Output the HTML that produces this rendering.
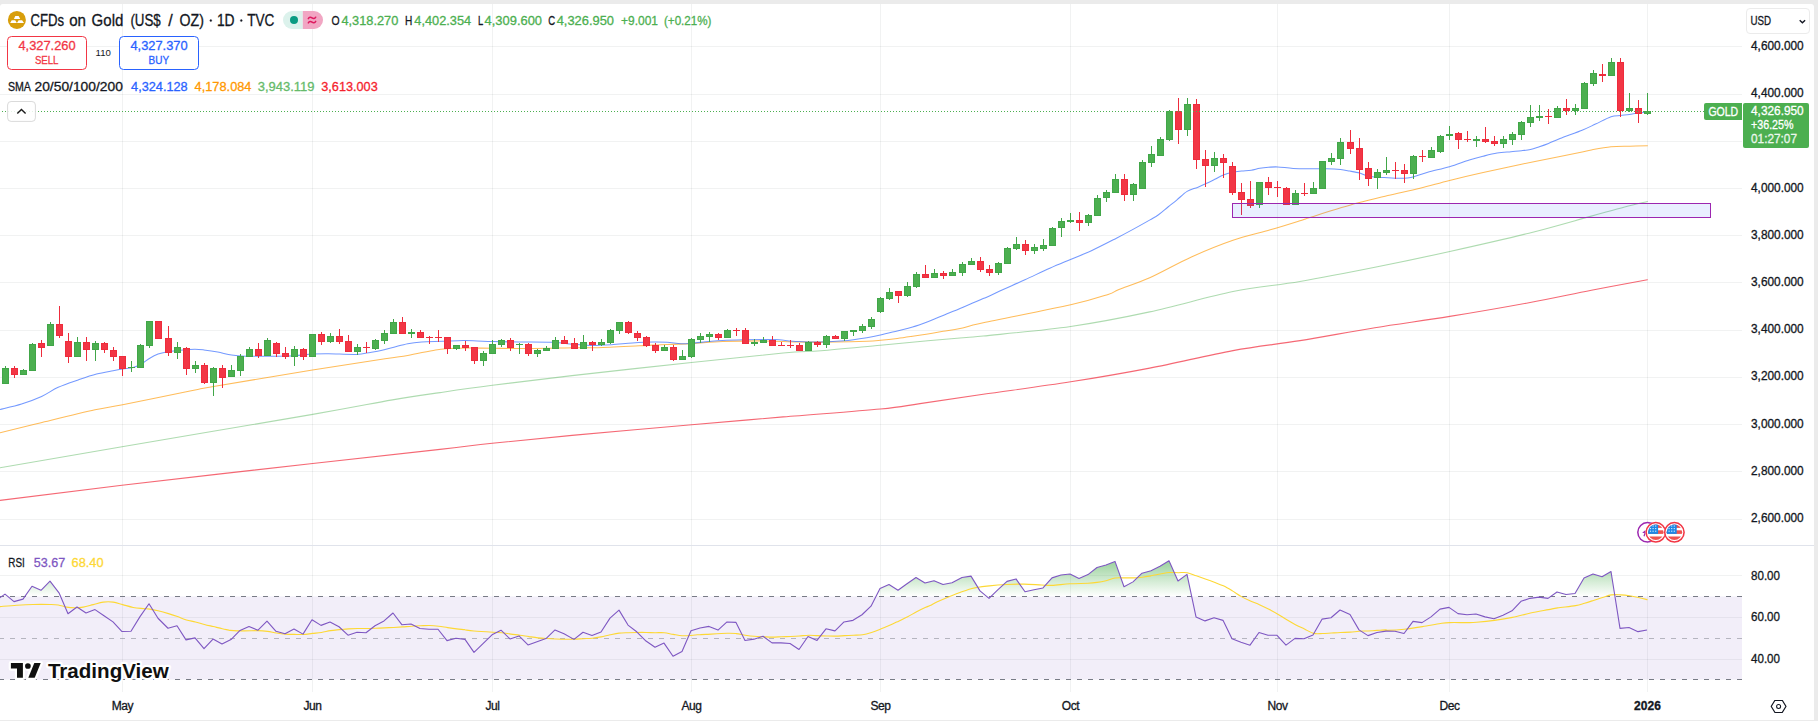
<!DOCTYPE html>
<html><head><meta charset="utf-8"><title>Gold chart</title>
<style>
html,body{margin:0;padding:0;}
body{width:1818px;height:721px;background:#ebebeb;overflow:hidden;position:relative;font-family:"Liberation Sans",sans-serif;}
#card{position:absolute;left:0;top:4px;width:1814px;height:716px;background:#fff;border-radius:3px 3px 0 0;}
</style></head><body>
<div id="card"></div>
<svg width="1818" height="721" viewBox="0 0 1818 721" style="position:absolute;left:0;top:0;font-family:'Liberation Sans',sans-serif">
<defs>
<linearGradient id="ob" gradientUnits="userSpaceOnUse" x1="0" y1="533.8" x2="0" y2="596.4"><stop offset="0" stop-color="#4caf50" stop-opacity="1"/><stop offset="1" stop-color="#4caf50" stop-opacity="0"/></linearGradient>
<clipPath id="above70"><rect x="0" y="546" width="1742" height="50.5"/></clipPath>
<clipPath id="pane"><rect x="0" y="4" width="1742" height="688"/></clipPath>
<clipPath id="flag"><circle cx="0" cy="0" r="7.75"/></clipPath>
</defs>
<g fill="rgba(20,40,30,0.06)">
<rect x="0" y="46" width="1742" height="1"/>
<rect x="0" y="94" width="1742" height="1"/>
<rect x="0" y="141" width="1742" height="1"/>
<rect x="0" y="188" width="1742" height="1"/>
<rect x="0" y="235" width="1742" height="1"/>
<rect x="0" y="282" width="1742" height="1"/>
<rect x="0" y="330" width="1742" height="1"/>
<rect x="0" y="377" width="1742" height="1"/>
<rect x="0" y="424" width="1742" height="1"/>
<rect x="0" y="471" width="1742" height="1"/>
<rect x="0" y="519" width="1742" height="1"/>
<rect x="0" y="575" width="1742" height="1"/>
<rect x="0" y="617" width="1742" height="1"/>
<rect x="0" y="659" width="1742" height="1"/>
<rect x="122" y="4" width="1" height="688"/>
<rect x="312" y="4" width="1" height="688"/>
<rect x="492" y="4" width="1" height="688"/>
<rect x="691" y="4" width="1" height="688"/>
<rect x="880" y="4" width="1" height="688"/>
<rect x="1070" y="4" width="1" height="688"/>
<rect x="1277" y="4" width="1" height="688"/>
<rect x="1449" y="4" width="1" height="688"/>
<rect x="1647" y="4" width="1" height="688"/>
</g>
<rect x="0" y="545" width="1814" height="1" fill="#e0e3eb"/>
<rect x="0" y="596.5" width="1742" height="83" fill="#7e57c2" fill-opacity="0.1"/>
<path d="M-3.5 600.12 L5 594.12 L14 601.61 L23 599.11 L32 586.3 L41 590.29 L50 581.14 L59 592.79 L68 613.76 L77 606.94 L86 612.93 L95 609.6 L104 615.76 L113 621.92 L122 631.57 L131 631.24 L140 616.59 L149 603.77 L158 618.26 L168 628.24 L177 625.75 L186 639.89 L195 637.9 L204 648.72 L213 639.06 L222 644.05 L231 639.53 L240 630.48 L249 626.48 L258 630.22 L267 621.2 L276 631.33 L285 633.69 L294 628.97 L303 634.11 L312 619.82 L321 625.37 L330 622.04 L339 626.75 L348 635.22 L357 632.3 L366 632.72 L375 625.78 L384 620.93 L393 613.02 L402 624.81 L411 623.98 L420 628.56 L429 629.25 L438 629.25 L447 640.63 L456 638.27 L465 639.38 L474 652.42 L483 643.54 L492 634.8 L501 630.22 L510 638.96 L519 635.91 L528 644.93 L537 641.74 L546 638.55 L555 629.94 L564 633.83 L574 639.38 L583 632.3 L592 635.49 L601 632.03 L610 618.15 L619 610.11 L628 625.09 L637 632.03 L646 641.04 L655 647.29 L664 643.12 L673 656.3 L682 651.45 L691 630.67 L700 627.93 L709 626.4 L718 630.07 L727 621.94 L736 622.42 L745 640.44 L754 639.16 L763 636.29 L772 642.83 L781 642.83 L790 643.47 L799 649.53 L808 636.45 L817 640.44 L826 628.8 L835 630.87 L844 621.94 L853 620.34 L862 614.76 L871 606.15 L880 588.6 L889 584.46 L898 590.2 L907 583.82 L916 577.44 L925 583.05 L934 580.66 L943 584.47 L952 582.74 L962 577.54 L971 576.15 L980 590.89 L989 598.34 L998 589.67 L1007 581.35 L1016 578.93 L1025 591.75 L1034 589.67 L1043 587.94 L1052 577.88 L1061 574.94 L1070 574.07 L1079 578.4 L1088 574.59 L1097 567.48 L1106 565.06 L1115 561.41 L1124 586.73 L1133 581.87 L1142 573.2 L1151 570.78 L1160 566.27 L1169 560.72 L1178 581.01 L1187 574.42 L1196 616.89 L1205 620.88 L1214 617.76 L1223 620.36 L1232 638.74 L1241 642.21 L1250 645.15 L1259 632.5 L1268 635.27 L1277 635.27 L1286 645.15 L1295 638.39 L1304 638.74 L1313 635.1 L1322 619.15 L1331 617.76 L1340 609.96 L1350 614.47 L1359 629.9 L1368 635.62 L1377 632.5 L1386 631.11 L1395 631.28 L1404 633.54 L1413 621.4 L1422 622.61 L1431 616.89 L1440 609.09 L1449 607.36 L1458 613.6 L1467 614.81 L1476 613.95 L1485 616.89 L1494 618.8 L1503 615.16 L1512 610.83 L1521 601.29 L1530 598.34 L1539 597.13 L1548 598.34 L1557 591.93 L1566 594.53 L1575 593.49 L1584 578.06 L1593 574.07 L1602 576.67 L1611 571.47 L1620 628.34 L1629 627.47 L1638 631.63 L1647 630.07 L1647 596.5 L-4 596.5 Z" fill="url(#ob)" clip-path="url(#above70)"/>
<g fill="none" stroke-width="1" stroke-dasharray="5 6">
<path d="M-1 596.5H1742" stroke="#787b86"/>
<path d="M-1 638.5H1742" stroke="#787b86" stroke-opacity="0.5"/>
<path d="M-1 679.5H1742" stroke="#787b86"/>
</g>
<path d="M0 606.6 C2.77 606.38 11.1 605.63 16.64 605.27 C22.19 604.91 27.74 604.58 33.29 604.44 C38.84 604.3 45.77 604.36 49.93 604.44 C54.09 604.52 55.48 604.5 58.26 604.94 C61.03 605.38 63.8 606.63 66.58 607.1 C69.35 607.58 72.13 607.77 74.9 607.77 C77.67 607.77 80.17 607.63 83.22 607.1 C86.27 606.58 89.88 605.44 93.21 604.61 C96.54 603.77 99.87 602.53 103.2 602.11 C106.52 601.69 109.94 601.69 113.18 602.11 C116.43 602.53 119.34 603.72 122.67 604.61 C126 605.49 129.74 606.77 133.16 607.44 C136.57 608.1 140.37 608.32 143.14 608.6 C145.92 608.88 147.3 608.74 149.8 609.1 C152.3 609.46 155.02 610.02 158.12 610.77 C161.23 611.51 165.22 612.62 168.44 613.6 C171.66 614.57 174.43 615.54 177.43 616.59 C180.43 617.65 183.42 619.03 186.42 619.92 C189.41 620.81 192.41 621.17 195.41 621.92 C198.4 622.67 201.4 623.64 204.39 624.41 C207.39 625.19 210.39 625.86 213.38 626.58 C216.38 627.3 219.93 628.19 222.37 628.74 C224.81 629.3 226.76 629.64 228.03 629.91 C229.3 630.18 227.36 630.19 230 630.36 C232.64 630.53 239.25 630.87 243.87 630.92 C248.5 630.96 253.82 630.57 257.75 630.64 C261.68 630.71 264.36 630.94 267.46 631.33 C270.56 631.72 273.33 632.53 276.34 633 C279.34 633.46 282.49 633.88 285.49 634.11 C288.5 634.34 291.39 634.31 294.37 634.38 C297.36 634.45 300.38 634.68 303.39 634.52 C306.4 634.36 309.4 633.76 312.41 633.41 C315.41 633.07 318.42 632.9 321.43 632.44 C324.43 631.98 327.44 631.1 330.44 630.64 C333.45 630.18 336.46 629.97 339.46 629.67 C342.47 629.37 345.47 629.02 348.48 628.83 C351.49 628.65 354.49 628.6 357.5 628.56 C360.5 628.51 363.51 628.6 366.51 628.56 C369.52 628.51 372.53 628.4 375.53 628.28 C378.54 628.16 381.54 628 384.55 627.86 C387.56 627.72 390.56 627.61 393.57 627.45 C396.57 627.29 399.58 627.1 402.59 626.89 C405.59 626.68 408.6 626.38 411.6 626.2 C414.61 626.01 417.62 625.9 420.62 625.78 C423.63 625.67 426.63 625.44 429.64 625.5 C432.65 625.57 435.65 625.85 438.66 626.2 C441.66 626.55 444.67 627.15 447.67 627.59 C450.68 628.03 453.89 628.49 456.69 628.83 C459.49 629.18 462.99 629.48 464.46 629.67 C465.94 629.85 463.98 629.71 465.55 629.94 C467.12 630.18 469.32 630.66 473.87 631.05 C478.43 631.45 488.21 632.03 492.88 632.3 C497.55 632.58 498.89 632.42 501.9 632.72 C504.9 633.02 507.91 633.69 510.92 634.11 C513.92 634.52 516.93 634.8 519.93 635.22 C522.94 635.63 525.95 636.16 528.95 636.6 C531.96 637.04 534.96 637.53 537.97 637.85 C540.97 638.18 543.98 638.36 546.99 638.55 C549.99 638.73 553 638.85 556 638.96 C559.01 639.08 562.02 639.19 565.02 639.24 C568.03 639.29 571.03 639.33 574.04 639.24 C577.05 639.15 580.05 638.85 583.06 638.68 C586.06 638.52 589.07 638.57 592.08 638.27 C595.08 637.97 598.09 637.46 601.09 636.88 C604.1 636.3 607.11 635.42 610.11 634.8 C613.12 634.18 616.12 633.48 619.13 633.14 C622.13 632.79 625.14 632.83 628.15 632.72 C631.15 632.6 634.16 632.49 637.16 632.44 C640.17 632.4 643.18 632.4 646.18 632.44 C649.19 632.49 652.19 632.67 655.2 632.72 C658.21 632.77 661.21 632.44 664.22 632.72 C667.22 633 670.23 633.88 673.24 634.38 C676.24 634.89 679.25 635.59 682.25 635.77 C685.26 635.96 688.77 635.66 691.27 635.49 C693.77 635.33 695.77 634.93 697.24 634.8 C698.7 634.67 698.6 634.77 700.05 634.7 C701.5 634.63 701.4 634.62 705.95 634.38 C710.49 634.14 722.27 633.39 727.32 633.26 C732.37 633.13 733.25 633.26 736.25 633.58 C739.26 633.9 742.34 634.72 745.34 635.18 C748.35 635.63 751.27 636.03 754.27 636.29 C757.28 636.56 760.33 636.64 763.37 636.77 C766.4 636.9 769.45 637.09 772.46 637.09 C775.46 637.09 778.38 636.88 781.39 636.77 C784.39 636.66 787.47 636.58 790.48 636.45 C793.48 636.32 796.41 636.19 799.41 635.97 C802.41 635.76 805.5 635.23 808.5 635.18 C811.5 635.12 814.43 635.52 817.43 635.65 C820.44 635.79 823.52 635.89 826.52 635.97 C829.53 636.05 832.45 636.19 835.45 636.13 C838.46 636.08 841.54 635.81 844.55 635.65 C847.55 635.49 850.47 635.33 853.48 635.18 C856.48 635.02 859.56 635.15 862.57 634.7 C865.57 634.25 868.5 633.39 871.5 632.46 C874.5 631.53 877.56 630.31 880.59 629.11 C883.62 627.92 886.68 626.62 889.68 625.29 C892.68 623.96 895.61 622.55 898.61 621.14 C901.62 619.73 904.7 618.4 907.7 616.83 C910.71 615.27 913.63 613.33 916.63 611.73 C919.64 610.14 923.49 608.28 925.73 607.26 C927.96 606.25 928.12 606.53 930.06 605.62 C931.99 604.72 933.23 603.66 937.34 601.81 C941.44 599.96 948.9 596.75 954.67 594.53 C960.45 592.3 966.23 589.91 972.01 588.46 C977.79 587.02 983.57 586.52 989.35 585.86 C995.13 585.2 1000.91 584.76 1006.69 584.47 C1012.46 584.18 1018.24 584.04 1024.02 584.13 C1029.8 584.21 1036.71 584.79 1041.36 584.99 C1046.01 585.2 1047.17 585.54 1051.93 585.34 C1056.7 585.14 1063.96 584.13 1069.97 583.78 C1075.98 583.43 1083.49 583.49 1088 583.26 C1092.5 583.03 1094.01 582.83 1097.01 582.39 C1100.02 581.96 1103.02 581.38 1106.03 580.66 C1109.03 579.94 1112.04 578.52 1115.04 578.06 C1118.05 577.6 1121.05 577.91 1124.06 577.88 C1127.06 577.86 1130.07 578 1133.07 577.88 C1136.08 577.77 1139.08 577.54 1142.09 577.19 C1145.09 576.84 1148.08 576.32 1151.1 575.8 C1154.13 575.28 1157.21 574.62 1160.23 574.07 C1163.25 573.52 1166.24 572.74 1169.24 572.51 C1172.25 572.28 1175.25 572.65 1178.26 572.68 C1181.26 572.71 1184.27 572.16 1187.27 572.68 C1190.28 573.2 1193.28 574.76 1196.29 575.8 C1199.29 576.84 1202.3 577.86 1205.31 578.93 C1208.31 579.99 1211.32 581.06 1214.32 582.22 C1217.33 583.37 1220.33 584.42 1223.34 585.86 C1226.34 587.3 1229.35 589.1 1232.35 590.89 C1235.36 592.68 1238.36 594.93 1241.37 596.61 C1244.37 598.28 1247.38 599.59 1250.38 600.94 C1253.39 602.3 1256.39 603.4 1259.4 604.76 C1262.4 606.12 1265.41 607.56 1268.41 609.09 C1271.42 610.62 1274.42 612.21 1277.43 613.95 C1280.43 615.68 1283.44 617.7 1286.44 619.49 C1289.45 621.29 1292.45 623.11 1295.46 624.69 C1298.46 626.28 1301.47 627.58 1304.47 629.03 C1307.48 630.47 1310.48 632.61 1313.49 633.36 C1316.49 634.11 1319.5 633.59 1322.5 633.54 C1325.51 633.48 1328.51 633.19 1331.52 633.02 C1334.52 632.84 1337.41 632.64 1340.53 632.5 C1343.65 632.35 1347.18 632.35 1350.24 632.15 C1353.31 631.95 1355.96 631.49 1358.91 631.28 C1361.86 631.08 1364.92 631.08 1367.93 630.94 C1370.93 630.79 1373.94 630.59 1376.94 630.42 C1379.95 630.24 1384.29 629.9 1385.96 629.9 C1387.62 629.9 1383.85 630.53 1386.93 630.42 C1390.02 630.3 1398.52 629.84 1404.45 629.2 C1410.37 628.57 1416.47 627.56 1422.48 626.6 C1428.49 625.65 1436 624.15 1440.51 623.48 C1445.01 622.82 1445.01 622.76 1449.52 622.61 C1454.03 622.47 1463.04 622.67 1467.55 622.61 C1472.06 622.56 1472.09 622.64 1476.57 622.27 C1481.05 621.89 1488.44 621.17 1494.42 620.36 C1500.41 619.55 1506.44 618.63 1512.45 617.41 C1518.47 616.2 1524.48 614.38 1530.49 613.08 C1536.5 611.78 1544.01 610.48 1548.52 609.61 C1553.02 608.74 1553.02 608.54 1557.53 607.88 C1562.04 607.21 1571.05 606.4 1575.56 605.62 C1580.07 604.84 1581.6 604.06 1584.58 603.2 C1587.55 602.33 1590.44 601.38 1593.42 600.42 C1596.4 599.47 1599.43 598.4 1602.43 597.48 C1605.44 596.55 1608.44 595.31 1611.45 594.88 C1614.45 594.44 1617.46 594.73 1620.46 594.88 C1623.47 595.02 1626.47 595.31 1629.48 595.74 C1632.48 596.18 1635.49 596.81 1638.5 597.48 C1641.5 598.14 1646.01 599.35 1647.51 599.73" fill="none" stroke="#fdd835" stroke-width="1.1" stroke-linejoin="round"/>
<path d="M-3.5 600.12 L5 594.12 L14 601.61 L23 599.11 L32 586.3 L41 590.29 L50 581.14 L59 592.79 L68 613.76 L77 606.94 L86 612.93 L95 609.6 L104 615.76 L113 621.92 L122 631.57 L131 631.24 L140 616.59 L149 603.77 L158 618.26 L168 628.24 L177 625.75 L186 639.89 L195 637.9 L204 648.72 L213 639.06 L222 644.05 L231 639.53 L240 630.48 L249 626.48 L258 630.22 L267 621.2 L276 631.33 L285 633.69 L294 628.97 L303 634.11 L312 619.82 L321 625.37 L330 622.04 L339 626.75 L348 635.22 L357 632.3 L366 632.72 L375 625.78 L384 620.93 L393 613.02 L402 624.81 L411 623.98 L420 628.56 L429 629.25 L438 629.25 L447 640.63 L456 638.27 L465 639.38 L474 652.42 L483 643.54 L492 634.8 L501 630.22 L510 638.96 L519 635.91 L528 644.93 L537 641.74 L546 638.55 L555 629.94 L564 633.83 L574 639.38 L583 632.3 L592 635.49 L601 632.03 L610 618.15 L619 610.11 L628 625.09 L637 632.03 L646 641.04 L655 647.29 L664 643.12 L673 656.3 L682 651.45 L691 630.67 L700 627.93 L709 626.4 L718 630.07 L727 621.94 L736 622.42 L745 640.44 L754 639.16 L763 636.29 L772 642.83 L781 642.83 L790 643.47 L799 649.53 L808 636.45 L817 640.44 L826 628.8 L835 630.87 L844 621.94 L853 620.34 L862 614.76 L871 606.15 L880 588.6 L889 584.46 L898 590.2 L907 583.82 L916 577.44 L925 583.05 L934 580.66 L943 584.47 L952 582.74 L962 577.54 L971 576.15 L980 590.89 L989 598.34 L998 589.67 L1007 581.35 L1016 578.93 L1025 591.75 L1034 589.67 L1043 587.94 L1052 577.88 L1061 574.94 L1070 574.07 L1079 578.4 L1088 574.59 L1097 567.48 L1106 565.06 L1115 561.41 L1124 586.73 L1133 581.87 L1142 573.2 L1151 570.78 L1160 566.27 L1169 560.72 L1178 581.01 L1187 574.42 L1196 616.89 L1205 620.88 L1214 617.76 L1223 620.36 L1232 638.74 L1241 642.21 L1250 645.15 L1259 632.5 L1268 635.27 L1277 635.27 L1286 645.15 L1295 638.39 L1304 638.74 L1313 635.1 L1322 619.15 L1331 617.76 L1340 609.96 L1350 614.47 L1359 629.9 L1368 635.62 L1377 632.5 L1386 631.11 L1395 631.28 L1404 633.54 L1413 621.4 L1422 622.61 L1431 616.89 L1440 609.09 L1449 607.36 L1458 613.6 L1467 614.81 L1476 613.95 L1485 616.89 L1494 618.8 L1503 615.16 L1512 610.83 L1521 601.29 L1530 598.34 L1539 597.13 L1548 598.34 L1557 591.93 L1566 594.53 L1575 593.49 L1584 578.06 L1593 574.07 L1602 576.67 L1611 571.47 L1620 628.34 L1629 627.47 L1638 631.63 L1647 630.07" fill="none" stroke="#7e57c2" stroke-width="1.1" stroke-linejoin="round"/>
<g fill="none" stroke-linejoin="round" stroke-linecap="round" clip-path="url(#pane)">
<path d="M0 500.4 C20.33 497.87 69.88 491.35 122 485.2 C174.12 479.05 259.7 469.47 312.7 463.5 C365.7 457.53 410.07 452.77 440 449.4 C469.93 446.03 470.3 445.63 492.3 443.3 C514.3 440.97 538.78 438.48 572 435.4 C605.22 432.32 656.4 427.88 691.6 424.8 C726.8 421.72 751.73 419.53 783.2 416.9 C814.67 414.27 857.6 411.22 880.4 409 C903.2 406.78 902.87 406.05 920 403.6 C937.13 401.15 958.08 397.93 983.2 394.3 C1008.32 390.67 1042.95 386.17 1070.7 381.8 C1098.45 377.43 1122.65 373.3 1149.7 368.1 C1176.75 362.9 1207.95 355.18 1233 350.6 C1258.05 346.02 1276.35 344.42 1300 340.6 C1323.65 336.78 1349.93 331.73 1374.9 327.7 C1399.87 323.67 1424.13 320.57 1449.8 316.4 C1475.47 312.23 1505.3 307.07 1528.9 302.7 C1552.5 298.33 1571.65 294.02 1591.4 290.2 C1611.15 286.38 1638.07 281.53 1647.4 279.8" stroke="#f23645" stroke-opacity="0.75" stroke-width="1.1"/>
<path d="M0 467.8 C20.33 464.28 69.88 455.6 122 446.7 C174.12 437.8 267.62 422.2 312.7 414.4 C357.78 406.6 371.28 403.53 392.5 399.9 C413.72 396.27 423.33 395.03 440 392.6 C456.67 390.17 470.5 388.13 492.5 385.3 C514.5 382.47 538.83 379.4 572 375.6 C605.17 371.8 656.3 366.27 691.5 362.5 C726.7 358.73 761.62 354.97 783.2 353 C804.78 351.03 804.8 352 821 350.7 C837.2 349.4 862.6 346.85 880.4 345.2 C898.2 343.55 914.53 342 927.8 340.8 C941.07 339.6 950.77 338.8 960 338 C969.23 337.2 964.75 337.92 983.2 336 C1001.65 334.08 1042.95 330.52 1070.7 326.5 C1098.45 322.48 1122.65 317.73 1149.7 311.9 C1176.75 306.07 1207.95 296.57 1233 291.5 C1258.05 286.43 1276.35 285.53 1300 281.5 C1323.65 277.47 1349.93 272.3 1374.9 267.3 C1399.87 262.3 1424.13 257.18 1449.8 251.5 C1475.47 245.82 1505.3 239.1 1528.9 233.2 C1552.5 227.3 1575.43 220.47 1591.4 216.1 C1607.37 211.73 1615.37 209.43 1624.7 207 C1634.03 204.57 1643.62 202.42 1647.4 201.5" stroke="#4caf50" stroke-opacity="0.45" stroke-width="1.1"/>
<path d="M0 432.7 C6.67 431.07 24.17 426.72 40 422.9 C55.83 419.08 81.23 412.83 95 409.8 C108.77 406.77 106.77 407.82 122.6 404.7 C138.43 401.58 174.85 394.12 190 391.1 C205.15 388.08 193.08 390.12 213.5 386.6 C233.92 383.08 283.92 374.63 312.5 370 C341.08 365.37 369.13 361.22 385 358.8 C400.87 356.38 399.28 356.98 407.7 355.5 C416.12 354.02 428.57 351.05 435.5 349.9 C442.43 348.75 443.52 348.92 449.3 348.6 C455.08 348.28 463 348.05 470.2 348 C477.4 347.95 482.1 348.22 492.5 348.3 C502.9 348.38 518.85 348.58 532.6 348.5 C546.35 348.42 564.15 347.93 575 347.8 C585.85 347.67 586.98 348.03 597.7 347.7 C608.42 347.37 627.73 346.35 639.3 345.8 C650.87 345.25 658.4 344.75 667.1 344.4 C675.8 344.05 682.25 344.17 691.5 343.7 C700.75 343.23 710.35 342.07 722.6 341.6 C734.85 341.13 752.42 340.83 765 340.9 C777.58 340.97 786.22 341.82 798.1 342 C809.98 342.18 824.85 342.13 836.3 342 C847.75 341.87 859.45 341.48 866.8 341.2 C874.15 340.92 875.32 340.75 880.4 340.3 C885.48 339.85 891.93 339.17 897.3 338.5 C902.67 337.83 907.52 337.07 912.6 336.3 C917.68 335.53 922.72 334.73 927.8 333.9 C932.88 333.07 937.73 332.18 943.1 331.3 C948.47 330.42 953.32 330.03 960 328.6 C966.68 327.17 964.75 326.67 983.2 322.7 C1001.65 318.73 1049.88 309.52 1070.7 304.8 C1091.52 300.08 1100.07 296.95 1108.1 294.4 C1116.13 291.85 1111.97 292.27 1118.9 289.5 C1125.83 286.73 1137.62 283.22 1149.7 277.8 C1161.78 272.38 1177.52 263.25 1191.4 257 C1205.28 250.75 1219.85 244.83 1233 240.3 C1246.15 235.77 1259.13 233.07 1270.3 229.8 C1281.47 226.53 1293.13 222.85 1300 220.7 C1306.87 218.55 1301.95 219.83 1311.5 216.9 C1321.05 213.97 1344.58 206.67 1357.3 203.1 C1370.02 199.53 1377.35 197.98 1387.8 195.5 C1398.25 193.02 1409.72 190.72 1420 188.2 C1430.28 185.68 1438.97 183.02 1449.5 180.4 C1460.03 177.78 1471.2 175.2 1483.2 172.5 C1495.2 169.8 1508.7 166.85 1521.5 164.2 C1534.3 161.55 1549.88 158.63 1560 156.6 C1570.12 154.57 1576.97 153.12 1582.2 152 C1587.43 150.88 1586.6 150.77 1591.4 149.9 C1596.2 149.03 1604.57 147.42 1611 146.8 C1617.43 146.18 1623.93 146.38 1630 146.2 C1636.07 146.02 1644.5 145.78 1647.4 145.7" stroke="#ff9800" stroke-opacity="0.65" stroke-width="1.05"/>
<path d="M0 409.5 C3.6 408.58 14.67 406.17 21.6 404 C28.53 401.83 35.5 399.28 41.6 396.5 C47.7 393.72 52.1 390.07 58.2 387.3 C64.3 384.53 71.82 382.12 78.2 379.9 C84.58 377.68 90.68 375.53 96.5 374 C102.32 372.47 108.75 371.53 113.1 370.7 C117.45 369.87 119.27 369.55 122.6 369 C125.93 368.45 129.97 368.23 133.1 367.4 C136.23 366.57 138.62 365.53 141.4 364 C144.18 362.47 147.02 359.85 149.8 358.2 C152.58 356.55 155.33 355.15 158.1 354.1 C160.87 353.05 162.25 352.6 166.4 351.9 C170.55 351.2 178.23 350.35 183 349.9 C187.77 349.45 191.52 349.2 195 349.2 C198.48 349.2 200.12 349.43 203.9 349.9 C207.68 350.37 213.08 351.13 217.7 352 C222.32 352.87 226.97 354.4 231.6 355.1 C236.23 355.8 238.57 356.02 245.5 356.2 C252.43 356.38 265.12 356.27 273.2 356.2 C281.28 356.13 287.45 356.15 294 355.8 C300.55 355.45 306.72 354.43 312.5 354.1 C318.28 353.77 321.38 353.75 328.7 353.8 C336.02 353.85 349.47 354.63 356.4 354.4 C363.33 354.17 366.2 353.03 370.3 352.4 C374.4 351.77 377.07 351.47 381 350.6 C384.93 349.73 389.45 348.35 393.9 347.2 C398.35 346.05 403.08 344.57 407.7 343.7 C412.32 342.83 415.82 342.4 421.6 342 C427.38 341.6 435.47 341.55 442.4 341.3 C449.33 341.05 457.42 340.57 463.2 340.5 C468.98 340.43 472.22 340.72 477.1 340.9 C481.98 341.08 485.57 341.42 492.5 341.6 C499.43 341.78 508.78 341.88 518.7 342 C528.62 342.12 543.92 342.02 552 342.3 C560.08 342.58 563.03 343.33 567.2 343.7 C571.37 344.07 573.07 344.22 577 344.5 C580.93 344.78 585.03 345.37 590.8 345.4 C596.57 345.43 604.67 345.1 611.6 344.7 C618.53 344.3 625.47 343.45 632.4 343 C639.33 342.55 647.42 342.12 653.2 342 C658.98 341.88 662.47 342 667.1 342.3 C671.73 342.6 676.93 343.63 681 343.8 C685.07 343.97 686.88 343.67 691.5 343.3 C696.12 342.93 703.52 342.07 708.7 341.6 C713.88 341.13 716.82 340.8 722.6 340.5 C728.38 340.2 736.83 339.97 743.4 339.8 C749.97 339.63 756.68 339.53 762 339.5 C767.32 339.47 769.28 339.27 775.3 339.6 C781.32 339.93 790.48 341.1 798.1 341.5 C805.72 341.9 813.37 342.12 821 342 C828.63 341.88 836.27 341.52 843.9 340.8 C851.53 340.08 860.72 338.65 866.8 337.7 C872.88 336.75 875.32 336.23 880.4 335.1 C885.48 333.97 891.93 332.25 897.3 330.9 C902.67 329.55 907.52 328.53 912.6 327 C917.68 325.47 922.72 323.6 927.8 321.7 C932.88 319.8 937.73 317.82 943.1 315.6 C948.47 313.38 953.32 311.23 960 308.4 C966.68 305.57 976 301.75 983.2 298.6 C990.4 295.45 996.25 292.63 1003.2 289.5 C1010.15 286.37 1017.13 283.35 1024.9 279.8 C1032.67 276.25 1042.2 271.6 1049.8 268.2 C1057.4 264.8 1063.57 262.32 1070.5 259.4 C1077.43 256.48 1083.75 254.23 1091.4 250.7 C1099.05 247.17 1109.47 241.75 1116.4 238.2 C1123.33 234.65 1127.4 232.45 1133 229.4 C1138.6 226.35 1145.75 222.33 1150 219.9 C1154.25 217.47 1155.5 216.95 1158.5 214.8 C1161.5 212.65 1164.97 209.45 1168 207 C1171.03 204.55 1173.52 202.7 1176.7 200.1 C1179.88 197.5 1183.63 193.52 1187.1 191.4 C1190.57 189.28 1194.33 188.7 1197.5 187.4 C1200.67 186.1 1203.22 184.95 1206.1 183.6 C1208.98 182.25 1211.92 180.75 1214.8 179.3 C1217.68 177.85 1220.43 176.07 1223.4 174.9 C1226.37 173.73 1229.57 172.93 1232.6 172.3 C1235.63 171.67 1238.5 171.45 1241.6 171.1 C1244.7 170.75 1248.17 170.67 1251.2 170.2 C1254.23 169.73 1256.92 168.78 1259.8 168.3 C1262.68 167.82 1265.53 167.53 1268.5 167.3 C1271.47 167.07 1273.48 166.72 1277.6 166.9 C1281.72 167.08 1287.55 168.08 1293.2 168.4 C1298.85 168.72 1305.9 168.73 1311.5 168.8 C1317.1 168.87 1321.97 168.67 1326.8 168.8 C1331.63 168.93 1336.68 169.22 1340.5 169.6 C1344.32 169.98 1346.52 170.52 1349.7 171.1 C1352.88 171.68 1356.8 172.33 1359.6 173.1 C1362.4 173.87 1363.5 175.02 1366.5 175.7 C1369.5 176.38 1374.05 176.87 1377.6 177.2 C1381.15 177.53 1383.9 177.52 1387.8 177.7 C1391.7 177.88 1397.82 178.23 1401 178.3 C1404.18 178.37 1404.75 178.35 1406.9 178.1 C1409.05 177.85 1410.43 177.78 1413.9 176.8 C1417.37 175.82 1421.77 173.88 1427.7 172.2 C1433.63 170.52 1442.57 168.73 1449.5 166.7 C1456.43 164.67 1463.68 161.75 1469.3 160 C1474.92 158.25 1478.57 157.35 1483.2 156.2 C1487.83 155.05 1492.47 153.85 1497.1 153.1 C1501.73 152.35 1506.93 152.1 1511 151.7 C1515.07 151.3 1518.25 151.08 1521.5 150.7 C1524.75 150.32 1527.63 150.03 1530.5 149.4 C1533.37 148.77 1535.7 147.9 1538.7 146.9 C1541.7 145.9 1544.95 144.8 1548.5 143.4 C1552.05 142 1554.3 140.75 1560 138.5 C1565.7 136.25 1576.78 132.3 1582.7 129.9 C1588.62 127.5 1590.78 126.28 1595.5 124.1 C1600.22 121.92 1606.85 118.23 1611 116.8 C1615.15 115.37 1617.33 115.9 1620.4 115.5 C1623.47 115.1 1626.4 114.82 1629.4 114.4 C1632.4 113.98 1635.4 113.38 1638.4 113 C1641.4 112.62 1645.9 112.25 1647.4 112.1" stroke="#2962ff" stroke-opacity="0.65" stroke-width="1.05"/>
</g>
<g fill="#41a648"><rect x="5" y="366" width="1" height="18"/><rect x="2" y="368" width="7" height="16"/><rect x="23" y="369" width="1" height="6"/><rect x="20" y="370" width="7" height="5"/><rect x="32" y="343" width="1" height="28"/><rect x="29" y="344" width="7" height="27"/><rect x="50" y="322" width="1" height="24"/><rect x="47" y="324" width="7" height="22"/><rect x="77" y="337" width="1" height="20"/><rect x="74" y="342" width="7" height="15"/><rect x="95" y="341" width="1" height="20"/><rect x="92" y="343" width="7" height="7"/><rect x="131" y="361" width="1" height="11"/><rect x="128" y="367" width="7" height="1"/><rect x="140" y="344" width="1" height="24"/><rect x="137" y="345" width="7" height="23"/><rect x="149" y="321" width="1" height="27"/><rect x="146" y="321" width="7" height="25"/><rect x="177" y="342" width="1" height="17"/><rect x="174" y="347" width="7" height="6"/><rect x="195" y="361" width="1" height="12"/><rect x="192" y="365" width="7" height="4"/><rect x="213" y="367" width="1" height="29"/><rect x="210" y="368" width="7" height="15"/><rect x="231" y="365" width="1" height="12"/><rect x="228" y="370" width="7" height="7"/><rect x="240" y="354" width="1" height="22"/><rect x="237" y="356" width="7" height="15"/><rect x="249" y="347" width="1" height="10"/><rect x="246" y="349" width="7" height="8"/><rect x="267" y="338" width="1" height="18"/><rect x="264" y="340" width="7" height="16"/><rect x="294" y="346" width="1" height="20"/><rect x="291" y="349" width="7" height="8"/><rect x="309" y="334" width="7" height="23"/><rect x="330" y="333" width="1" height="10"/><rect x="327" y="336" width="7" height="6"/><rect x="357" y="344" width="1" height="11"/><rect x="354" y="347" width="7" height="5"/><rect x="375" y="339" width="1" height="11"/><rect x="372" y="340" width="7" height="9"/><rect x="384" y="330" width="1" height="14"/><rect x="381" y="333" width="7" height="8"/><rect x="393" y="319" width="1" height="15"/><rect x="390" y="322" width="7" height="12"/><rect x="411" y="329" width="1" height="9"/><rect x="408" y="332" width="7" height="2"/><rect x="456" y="345" width="1" height="5"/><rect x="453" y="345" width="7" height="4"/><rect x="483" y="351" width="1" height="15"/><rect x="480" y="353" width="7" height="8"/><rect x="492" y="340" width="1" height="14"/><rect x="489" y="344" width="7" height="10"/><rect x="501" y="339" width="1" height="8"/><rect x="498" y="340" width="7" height="5"/><rect x="519" y="343" width="1" height="11"/><rect x="516" y="344" width="7" height="1"/><rect x="537" y="349" width="1" height="8"/><rect x="534" y="350" width="7" height="4"/><rect x="546" y="346" width="1" height="5"/><rect x="543" y="348" width="7" height="3"/><rect x="555" y="337" width="1" height="12"/><rect x="552" y="340" width="7" height="9"/><rect x="583" y="335" width="1" height="14"/><rect x="580" y="342" width="7" height="7"/><rect x="601" y="339" width="1" height="7"/><rect x="598" y="342" width="7" height="3"/><rect x="610" y="329" width="1" height="15"/><rect x="607" y="330" width="7" height="13"/><rect x="619" y="322" width="1" height="12"/><rect x="616" y="322" width="7" height="9"/><rect x="664" y="345" width="1" height="6"/><rect x="661" y="347" width="7" height="4"/><rect x="682" y="350" width="1" height="10"/><rect x="679" y="356" width="7" height="4"/><rect x="691" y="338" width="1" height="20"/><rect x="688" y="339" width="7" height="18"/><rect x="700" y="333" width="1" height="10"/><rect x="697" y="336" width="7" height="4"/><rect x="709" y="332" width="1" height="10"/><rect x="706" y="334" width="7" height="3"/><rect x="727" y="329" width="1" height="9"/><rect x="724" y="330" width="7" height="8"/><rect x="754" y="339" width="1" height="7"/><rect x="751" y="342" width="7" height="2"/><rect x="763" y="337" width="1" height="6"/><rect x="760" y="340" width="7" height="3"/><rect x="808" y="341" width="1" height="10"/><rect x="805" y="342" width="7" height="9"/><rect x="826" y="335" width="1" height="13"/><rect x="823" y="336" width="7" height="9"/><rect x="844" y="331" width="1" height="10"/><rect x="841" y="331" width="7" height="8"/><rect x="853" y="330" width="1" height="6"/><rect x="850" y="330" width="7" height="2"/><rect x="862" y="324" width="1" height="9"/><rect x="859" y="326" width="7" height="5"/><rect x="871" y="317" width="1" height="12"/><rect x="868" y="319" width="7" height="8"/><rect x="880" y="297" width="1" height="16"/><rect x="877" y="298" width="7" height="14"/><rect x="889" y="288" width="1" height="12"/><rect x="886" y="292" width="7" height="7"/><rect x="907" y="282" width="1" height="15"/><rect x="904" y="286" width="7" height="10"/><rect x="916" y="272" width="1" height="16"/><rect x="913" y="274" width="7" height="13"/><rect x="934" y="269" width="1" height="9"/><rect x="931" y="273" width="7" height="5"/><rect x="952" y="269" width="1" height="7"/><rect x="949" y="272" width="7" height="4"/><rect x="962" y="262" width="1" height="14"/><rect x="959" y="264" width="7" height="9"/><rect x="971" y="258" width="1" height="7"/><rect x="968" y="261" width="7" height="4"/><rect x="998" y="262" width="1" height="13"/><rect x="995" y="263" width="7" height="10"/><rect x="1007" y="247" width="1" height="17"/><rect x="1004" y="248" width="7" height="16"/><rect x="1016" y="237" width="1" height="13"/><rect x="1013" y="244" width="7" height="5"/><rect x="1034" y="244" width="1" height="10"/><rect x="1031" y="247" width="7" height="4"/><rect x="1043" y="239" width="1" height="12"/><rect x="1040" y="245" width="7" height="4"/><rect x="1052" y="227" width="1" height="19"/><rect x="1049" y="228" width="7" height="18"/><rect x="1061" y="218" width="1" height="19"/><rect x="1058" y="221" width="7" height="7"/><rect x="1070" y="213" width="1" height="10"/><rect x="1067" y="220" width="7" height="2"/><rect x="1088" y="214" width="1" height="12"/><rect x="1085" y="215" width="7" height="8"/><rect x="1097" y="195" width="1" height="21"/><rect x="1094" y="198" width="7" height="18"/><rect x="1106" y="190" width="1" height="12"/><rect x="1103" y="192" width="7" height="6"/><rect x="1115" y="174" width="1" height="19"/><rect x="1112" y="179" width="7" height="14"/><rect x="1133" y="183" width="1" height="18"/><rect x="1130" y="184" width="7" height="11"/><rect x="1142" y="160" width="1" height="29"/><rect x="1139" y="162" width="7" height="27"/><rect x="1151" y="146" width="1" height="21"/><rect x="1148" y="154" width="7" height="9"/><rect x="1160" y="137" width="1" height="19"/><rect x="1157" y="139" width="7" height="17"/><rect x="1169" y="110" width="1" height="31"/><rect x="1166" y="111" width="7" height="29"/><rect x="1187" y="98" width="1" height="38"/><rect x="1184" y="104" width="7" height="26"/><rect x="1214" y="152" width="1" height="20"/><rect x="1211" y="158" width="7" height="8"/><rect x="1259" y="182" width="1" height="26"/><rect x="1256" y="182" width="7" height="23"/><rect x="1295" y="190" width="1" height="15"/><rect x="1292" y="193" width="7" height="12"/><rect x="1313" y="182" width="1" height="12"/><rect x="1310" y="188" width="7" height="6"/><rect x="1319" y="161" width="7" height="28"/><rect x="1331" y="153" width="1" height="12"/><rect x="1328" y="158" width="7" height="4"/><rect x="1340" y="138" width="1" height="27"/><rect x="1337" y="142" width="7" height="17"/><rect x="1377" y="169" width="1" height="20"/><rect x="1374" y="172" width="7" height="6"/><rect x="1386" y="157" width="1" height="18"/><rect x="1383" y="170" width="7" height="3"/><rect x="1413" y="155" width="1" height="24"/><rect x="1410" y="156" width="7" height="18"/><rect x="1431" y="147" width="1" height="11"/><rect x="1428" y="150" width="7" height="8"/><rect x="1440" y="135" width="1" height="18"/><rect x="1437" y="136" width="7" height="16"/><rect x="1449" y="126" width="1" height="14"/><rect x="1446" y="134" width="7" height="2"/><rect x="1476" y="136" width="1" height="11"/><rect x="1473" y="139" width="7" height="2"/><rect x="1503" y="136" width="1" height="12"/><rect x="1500" y="139" width="7" height="5"/><rect x="1512" y="132" width="1" height="13"/><rect x="1509" y="134" width="7" height="6"/><rect x="1521" y="121" width="1" height="19"/><rect x="1518" y="122" width="7" height="13"/><rect x="1530" y="105" width="1" height="22"/><rect x="1527" y="117" width="7" height="6"/><rect x="1539" y="105" width="1" height="16"/><rect x="1536" y="116" width="7" height="2"/><rect x="1557" y="106" width="1" height="12"/><rect x="1554" y="108" width="7" height="10"/><rect x="1575" y="104" width="1" height="11"/><rect x="1572" y="108" width="7" height="3"/><rect x="1584" y="82" width="1" height="27"/><rect x="1581" y="83" width="7" height="26"/><rect x="1593" y="70" width="1" height="16"/><rect x="1590" y="73" width="7" height="11"/><rect x="1611" y="58" width="1" height="18"/><rect x="1608" y="62" width="7" height="14"/><rect x="1629" y="93" width="1" height="19"/><rect x="1626" y="108" width="7" height="3"/><rect x="1647" y="93" width="1" height="22"/><rect x="1644" y="111" width="7" height="3"/></g>
<g fill="#ee2c3c"><rect x="14" y="366" width="1" height="12"/><rect x="11" y="368" width="7" height="7"/><rect x="41" y="340" width="1" height="17"/><rect x="38" y="343" width="7" height="5"/><rect x="59" y="306" width="1" height="32"/><rect x="56" y="324" width="7" height="12"/><rect x="68" y="333" width="1" height="30"/><rect x="65" y="341" width="7" height="16"/><rect x="86" y="337" width="1" height="24"/><rect x="83" y="342" width="7" height="8"/><rect x="104" y="342" width="1" height="11"/><rect x="101" y="343" width="7" height="7"/><rect x="113" y="347" width="1" height="14"/><rect x="110" y="350" width="7" height="7"/><rect x="122" y="356" width="1" height="20"/><rect x="119" y="356" width="7" height="13"/><rect x="155" y="321" width="7" height="18"/><rect x="168" y="326" width="1" height="30"/><rect x="165" y="338" width="7" height="15"/><rect x="186" y="347" width="1" height="28"/><rect x="183" y="348" width="7" height="21"/><rect x="204" y="363" width="1" height="21"/><rect x="201" y="365" width="7" height="18"/><rect x="222" y="365" width="1" height="23"/><rect x="219" y="368" width="7" height="10"/><rect x="258" y="343" width="1" height="15"/><rect x="255" y="349" width="7" height="7"/><rect x="276" y="342" width="1" height="15"/><rect x="273" y="343" width="7" height="11"/><rect x="285" y="347" width="1" height="12"/><rect x="282" y="353" width="7" height="4"/><rect x="303" y="348" width="1" height="12"/><rect x="300" y="349" width="7" height="8"/><rect x="321" y="332" width="1" height="13"/><rect x="318" y="334" width="7" height="8"/><rect x="339" y="329" width="1" height="15"/><rect x="336" y="336" width="7" height="6"/><rect x="348" y="335" width="1" height="17"/><rect x="345" y="341" width="7" height="11"/><rect x="366" y="342" width="1" height="11"/><rect x="363" y="347" width="7" height="1"/><rect x="402" y="317" width="1" height="17"/><rect x="399" y="322" width="7" height="12"/><rect x="420" y="330" width="1" height="8"/><rect x="417" y="332" width="7" height="6"/><rect x="429" y="336" width="1" height="8"/><rect x="426" y="337" width="7" height="1"/><rect x="438" y="330" width="1" height="12"/><rect x="435" y="337" width="7" height="1"/><rect x="447" y="337" width="1" height="17"/><rect x="444" y="337" width="7" height="12"/><rect x="465" y="341" width="1" height="10"/><rect x="462" y="345" width="7" height="3"/><rect x="474" y="347" width="1" height="17"/><rect x="471" y="347" width="7" height="14"/><rect x="510" y="338" width="1" height="13"/><rect x="507" y="340" width="7" height="8"/><rect x="528" y="343" width="1" height="13"/><rect x="525" y="344" width="7" height="10"/><rect x="564" y="336" width="1" height="8"/><rect x="561" y="340" width="7" height="4"/><rect x="574" y="338" width="1" height="11"/><rect x="571" y="343" width="7" height="6"/><rect x="592" y="341" width="1" height="10"/><rect x="589" y="342" width="7" height="3"/><rect x="628" y="321" width="1" height="13"/><rect x="625" y="322" width="7" height="11"/><rect x="637" y="331" width="1" height="10"/><rect x="634" y="333" width="7" height="5"/><rect x="646" y="336" width="1" height="11"/><rect x="643" y="337" width="7" height="9"/><rect x="655" y="343" width="1" height="10"/><rect x="652" y="345" width="7" height="6"/><rect x="673" y="345" width="1" height="16"/><rect x="670" y="347" width="7" height="13"/><rect x="718" y="333" width="1" height="7"/><rect x="715" y="334" width="7" height="4"/><rect x="736" y="328" width="1" height="8"/><rect x="733" y="330" width="7" height="1"/><rect x="745" y="328" width="1" height="16"/><rect x="742" y="330" width="7" height="14"/><rect x="772" y="336" width="1" height="10"/><rect x="769" y="340" width="7" height="6"/><rect x="781" y="342" width="1" height="4"/><rect x="778" y="345" width="7" height="1"/><rect x="790" y="340" width="1" height="8"/><rect x="787" y="345" width="7" height="1"/><rect x="799" y="343" width="1" height="8"/><rect x="796" y="345" width="7" height="6"/><rect x="817" y="341" width="1" height="6"/><rect x="814" y="342" width="7" height="3"/><rect x="835" y="335" width="1" height="4"/><rect x="832" y="336" width="7" height="3"/><rect x="898" y="291" width="1" height="12"/><rect x="895" y="291" width="7" height="5"/><rect x="925" y="265" width="1" height="13"/><rect x="922" y="274" width="7" height="4"/><rect x="943" y="271" width="1" height="8"/><rect x="940" y="273" width="7" height="3"/><rect x="980" y="257" width="1" height="15"/><rect x="977" y="261" width="7" height="9"/><rect x="989" y="265" width="1" height="11"/><rect x="986" y="269" width="7" height="4"/><rect x="1025" y="240" width="1" height="15"/><rect x="1022" y="244" width="7" height="7"/><rect x="1079" y="212" width="1" height="19"/><rect x="1076" y="220" width="7" height="3"/><rect x="1124" y="174" width="1" height="27"/><rect x="1121" y="179" width="7" height="16"/><rect x="1178" y="98" width="1" height="46"/><rect x="1175" y="111" width="7" height="19"/><rect x="1196" y="99" width="1" height="70"/><rect x="1193" y="104" width="7" height="56"/><rect x="1205" y="150" width="1" height="37"/><rect x="1202" y="159" width="7" height="7"/><rect x="1223" y="154" width="1" height="24"/><rect x="1220" y="158" width="7" height="5"/><rect x="1232" y="162" width="1" height="33"/><rect x="1229" y="166" width="7" height="27"/><rect x="1241" y="183" width="1" height="32"/><rect x="1238" y="192" width="7" height="8"/><rect x="1250" y="181" width="1" height="27"/><rect x="1247" y="199" width="7" height="7"/><rect x="1268" y="177" width="1" height="18"/><rect x="1265" y="182" width="7" height="6"/><rect x="1277" y="181" width="1" height="16"/><rect x="1274" y="187" width="7" height="1"/><rect x="1286" y="187" width="1" height="18"/><rect x="1283" y="188" width="7" height="17"/><rect x="1304" y="183" width="1" height="13"/><rect x="1301" y="193" width="7" height="1"/><rect x="1350" y="130" width="1" height="24"/><rect x="1347" y="142" width="7" height="7"/><rect x="1359" y="138" width="1" height="42"/><rect x="1356" y="148" width="7" height="22"/><rect x="1368" y="162" width="1" height="24"/><rect x="1365" y="168" width="7" height="11"/><rect x="1395" y="162" width="1" height="17"/><rect x="1392" y="170" width="7" height="1"/><rect x="1404" y="164" width="1" height="19"/><rect x="1401" y="170" width="7" height="4"/><rect x="1422" y="150" width="1" height="12"/><rect x="1419" y="156" width="7" height="1"/><rect x="1458" y="132" width="1" height="17"/><rect x="1455" y="133" width="7" height="7"/><rect x="1467" y="131" width="1" height="11"/><rect x="1464" y="139" width="7" height="1"/><rect x="1485" y="127" width="1" height="16"/><rect x="1482" y="139" width="7" height="3"/><rect x="1494" y="136" width="1" height="10"/><rect x="1491" y="141" width="7" height="3"/><rect x="1548" y="109" width="1" height="15"/><rect x="1545" y="116" width="7" height="1"/><rect x="1566" y="99" width="1" height="16"/><rect x="1563" y="108" width="7" height="3"/><rect x="1602" y="64" width="1" height="18"/><rect x="1599" y="74" width="7" height="2"/><rect x="1620" y="58" width="1" height="59"/><rect x="1617" y="62" width="7" height="49"/><rect x="1638" y="100" width="1" height="23"/><rect x="1635" y="108" width="7" height="6"/></g>
<g fill="#4caf50"><rect x="3" y="369" width="5" height="14"/><rect x="21" y="371" width="5" height="3"/><rect x="30" y="345" width="5" height="25"/><rect x="48" y="325" width="5" height="20"/><rect x="75" y="343" width="5" height="13"/><rect x="93" y="344" width="5" height="5"/><rect x="138" y="346" width="5" height="21"/><rect x="147" y="322" width="5" height="23"/><rect x="175" y="348" width="5" height="4"/><rect x="193" y="366" width="5" height="2"/><rect x="211" y="369" width="5" height="13"/><rect x="229" y="371" width="5" height="5"/><rect x="238" y="357" width="5" height="13"/><rect x="247" y="350" width="5" height="6"/><rect x="265" y="341" width="5" height="14"/><rect x="292" y="350" width="5" height="6"/><rect x="310" y="335" width="5" height="21"/><rect x="328" y="337" width="5" height="4"/><rect x="355" y="348" width="5" height="3"/><rect x="373" y="341" width="5" height="7"/><rect x="382" y="334" width="5" height="6"/><rect x="391" y="323" width="5" height="10"/><rect x="454" y="346" width="5" height="2"/><rect x="481" y="354" width="5" height="6"/><rect x="490" y="345" width="5" height="8"/><rect x="499" y="341" width="5" height="3"/><rect x="535" y="351" width="5" height="2"/><rect x="544" y="349" width="5" height="1"/><rect x="553" y="341" width="5" height="7"/><rect x="581" y="343" width="5" height="5"/><rect x="599" y="343" width="5" height="1"/><rect x="608" y="331" width="5" height="11"/><rect x="617" y="323" width="5" height="7"/><rect x="662" y="348" width="5" height="2"/><rect x="680" y="357" width="5" height="2"/><rect x="689" y="340" width="5" height="16"/><rect x="698" y="337" width="5" height="2"/><rect x="707" y="335" width="5" height="1"/><rect x="725" y="331" width="5" height="6"/><rect x="761" y="341" width="5" height="1"/><rect x="806" y="343" width="5" height="7"/><rect x="824" y="337" width="5" height="7"/><rect x="842" y="332" width="5" height="6"/><rect x="860" y="327" width="5" height="3"/><rect x="869" y="320" width="5" height="6"/><rect x="878" y="299" width="5" height="12"/><rect x="887" y="293" width="5" height="5"/><rect x="905" y="287" width="5" height="8"/><rect x="914" y="275" width="5" height="11"/><rect x="932" y="274" width="5" height="3"/><rect x="950" y="273" width="5" height="2"/><rect x="960" y="265" width="5" height="7"/><rect x="969" y="262" width="5" height="2"/><rect x="996" y="264" width="5" height="8"/><rect x="1005" y="249" width="5" height="14"/><rect x="1014" y="245" width="5" height="3"/><rect x="1032" y="248" width="5" height="2"/><rect x="1041" y="246" width="5" height="2"/><rect x="1050" y="229" width="5" height="16"/><rect x="1059" y="222" width="5" height="5"/><rect x="1086" y="216" width="5" height="6"/><rect x="1095" y="199" width="5" height="16"/><rect x="1104" y="193" width="5" height="4"/><rect x="1113" y="180" width="5" height="12"/><rect x="1131" y="185" width="5" height="9"/><rect x="1140" y="163" width="5" height="25"/><rect x="1149" y="155" width="5" height="7"/><rect x="1158" y="140" width="5" height="15"/><rect x="1167" y="112" width="5" height="27"/><rect x="1185" y="105" width="5" height="24"/><rect x="1212" y="159" width="5" height="6"/><rect x="1257" y="183" width="5" height="21"/><rect x="1293" y="194" width="5" height="10"/><rect x="1311" y="189" width="5" height="4"/><rect x="1320" y="162" width="5" height="26"/><rect x="1329" y="159" width="5" height="2"/><rect x="1338" y="143" width="5" height="15"/><rect x="1375" y="173" width="5" height="4"/><rect x="1384" y="171" width="5" height="1"/><rect x="1411" y="157" width="5" height="16"/><rect x="1429" y="151" width="5" height="6"/><rect x="1438" y="137" width="5" height="14"/><rect x="1501" y="140" width="5" height="3"/><rect x="1510" y="135" width="5" height="4"/><rect x="1519" y="123" width="5" height="11"/><rect x="1528" y="118" width="5" height="4"/><rect x="1555" y="109" width="5" height="8"/><rect x="1573" y="109" width="5" height="1"/><rect x="1582" y="84" width="5" height="24"/><rect x="1591" y="74" width="5" height="9"/><rect x="1609" y="63" width="5" height="12"/><rect x="1627" y="109" width="5" height="1"/><rect x="1645" y="112" width="5" height="1"/></g>
<g fill="#f23645"><rect x="12" y="369" width="5" height="5"/><rect x="39" y="344" width="5" height="3"/><rect x="57" y="325" width="5" height="10"/><rect x="66" y="342" width="5" height="14"/><rect x="84" y="343" width="5" height="6"/><rect x="102" y="344" width="5" height="5"/><rect x="111" y="351" width="5" height="5"/><rect x="120" y="357" width="5" height="11"/><rect x="156" y="322" width="5" height="16"/><rect x="166" y="339" width="5" height="13"/><rect x="184" y="349" width="5" height="19"/><rect x="202" y="366" width="5" height="16"/><rect x="220" y="369" width="5" height="8"/><rect x="256" y="350" width="5" height="5"/><rect x="274" y="344" width="5" height="9"/><rect x="283" y="354" width="5" height="2"/><rect x="301" y="350" width="5" height="6"/><rect x="319" y="335" width="5" height="6"/><rect x="337" y="337" width="5" height="4"/><rect x="346" y="342" width="5" height="9"/><rect x="400" y="323" width="5" height="10"/><rect x="418" y="333" width="5" height="4"/><rect x="445" y="338" width="5" height="10"/><rect x="463" y="346" width="5" height="1"/><rect x="472" y="348" width="5" height="12"/><rect x="508" y="341" width="5" height="6"/><rect x="526" y="345" width="5" height="8"/><rect x="562" y="341" width="5" height="2"/><rect x="572" y="344" width="5" height="4"/><rect x="590" y="343" width="5" height="1"/><rect x="626" y="323" width="5" height="9"/><rect x="635" y="334" width="5" height="3"/><rect x="644" y="338" width="5" height="7"/><rect x="653" y="346" width="5" height="4"/><rect x="671" y="348" width="5" height="11"/><rect x="716" y="335" width="5" height="2"/><rect x="743" y="331" width="5" height="12"/><rect x="770" y="341" width="5" height="4"/><rect x="797" y="346" width="5" height="4"/><rect x="815" y="343" width="5" height="1"/><rect x="833" y="337" width="5" height="1"/><rect x="896" y="292" width="5" height="3"/><rect x="923" y="275" width="5" height="2"/><rect x="941" y="274" width="5" height="1"/><rect x="978" y="262" width="5" height="7"/><rect x="987" y="270" width="5" height="2"/><rect x="1023" y="245" width="5" height="5"/><rect x="1077" y="221" width="5" height="1"/><rect x="1122" y="180" width="5" height="14"/><rect x="1176" y="112" width="5" height="17"/><rect x="1194" y="105" width="5" height="54"/><rect x="1203" y="160" width="5" height="5"/><rect x="1221" y="159" width="5" height="3"/><rect x="1230" y="167" width="5" height="25"/><rect x="1239" y="193" width="5" height="6"/><rect x="1248" y="200" width="5" height="5"/><rect x="1266" y="183" width="5" height="4"/><rect x="1284" y="189" width="5" height="15"/><rect x="1348" y="143" width="5" height="5"/><rect x="1357" y="149" width="5" height="20"/><rect x="1366" y="169" width="5" height="9"/><rect x="1402" y="171" width="5" height="2"/><rect x="1456" y="134" width="5" height="5"/><rect x="1483" y="140" width="5" height="1"/><rect x="1492" y="142" width="5" height="1"/><rect x="1564" y="109" width="5" height="1"/><rect x="1618" y="63" width="5" height="47"/><rect x="1636" y="109" width="5" height="4"/></g>
<rect x="1232.5" y="203.5" width="478" height="14" fill="#2962ff" fill-opacity="0.1" stroke="#9c27b0" stroke-width="1"/>
<path d="M-1 111.5H1704" stroke="#4caf50" stroke-width="1" stroke-dasharray="1 2" fill="none"/>
<circle cx="1647.5" cy="532.3" r="9.7" fill="#fff" stroke="#9c27b0" stroke-width="1.5"/>
<path d="M1645.6 530.8 L1643.6 532.3 L1645.2 532.6 L1644 536.2" fill="none" stroke="#9c27b0" stroke-width="1.2"/>
<g transform="translate(1655.8 532.3)"><circle r="10.4" fill="#fff"/><g clip-path="url(#flag)"><rect x="-9" y="-9" width="18" height="18" fill="#fff"/><rect x="-9" y="-9" width="18" height="4.6" fill="#ef5350"/><rect x="-9" y="-2" width="18" height="3.6" fill="#ef5350"/><rect x="-9" y="4.2" width="18" height="5" fill="#ef5350"/><rect x="-9" y="-9" width="11.3" height="10.6" fill="#1e88e5"/><rect x="-5.9" y="-6.85" width="1.2" height="1.1" fill="#fff" fill-opacity="0.85"/><rect x="-3.3" y="-6.85" width="1.2" height="1.1" fill="#fff" fill-opacity="0.85"/><rect x="-0.7" y="-6.85" width="1.2" height="1.1" fill="#fff" fill-opacity="0.85"/><rect x="-5.9" y="-4.25" width="1.2" height="1.1" fill="#fff" fill-opacity="0.85"/><rect x="-3.3" y="-4.25" width="1.2" height="1.1" fill="#fff" fill-opacity="0.85"/><rect x="-0.7" y="-4.25" width="1.2" height="1.1" fill="#fff" fill-opacity="0.85"/><rect x="-5.9" y="-1.65" width="1.2" height="1.1" fill="#fff" fill-opacity="0.85"/><rect x="-3.3" y="-1.65" width="1.2" height="1.1" fill="#fff" fill-opacity="0.85"/><rect x="-0.7" y="-1.65" width="1.2" height="1.1" fill="#fff" fill-opacity="0.85"/></g><circle r="9.7" fill="none" stroke="#f23645" stroke-width="1.55"/></g>
<g transform="translate(1674.4 532.3)"><circle r="10.4" fill="#fff"/><g clip-path="url(#flag)"><rect x="-9" y="-9" width="18" height="18" fill="#fff"/><rect x="-9" y="-9" width="18" height="4.6" fill="#ef5350"/><rect x="-9" y="-2" width="18" height="3.6" fill="#ef5350"/><rect x="-9" y="4.2" width="18" height="5" fill="#ef5350"/><rect x="-9" y="-9" width="11.3" height="10.6" fill="#1e88e5"/><rect x="-5.9" y="-6.85" width="1.2" height="1.1" fill="#fff" fill-opacity="0.85"/><rect x="-3.3" y="-6.85" width="1.2" height="1.1" fill="#fff" fill-opacity="0.85"/><rect x="-0.7" y="-6.85" width="1.2" height="1.1" fill="#fff" fill-opacity="0.85"/><rect x="-5.9" y="-4.25" width="1.2" height="1.1" fill="#fff" fill-opacity="0.85"/><rect x="-3.3" y="-4.25" width="1.2" height="1.1" fill="#fff" fill-opacity="0.85"/><rect x="-0.7" y="-4.25" width="1.2" height="1.1" fill="#fff" fill-opacity="0.85"/><rect x="-5.9" y="-1.65" width="1.2" height="1.1" fill="#fff" fill-opacity="0.85"/><rect x="-3.3" y="-1.65" width="1.2" height="1.1" fill="#fff" fill-opacity="0.85"/><rect x="-0.7" y="-1.65" width="1.2" height="1.1" fill="#fff" fill-opacity="0.85"/></g><circle r="9.7" fill="none" stroke="#f23645" stroke-width="1.55"/></g>
<g font-size="12" fill="#131722" stroke="#131722" stroke-width="0.3">
<text x="1751" y="50" textLength="52.7" lengthAdjust="spacingAndGlyphs">4,600.000</text>
<text x="1751" y="97.19" textLength="52.7" lengthAdjust="spacingAndGlyphs">4,400.000</text>
<text x="1751" y="191.57" textLength="52.7" lengthAdjust="spacingAndGlyphs">4,000.000</text>
<text x="1751" y="238.76" textLength="52.7" lengthAdjust="spacingAndGlyphs">3,800.000</text>
<text x="1751" y="285.95" textLength="52.7" lengthAdjust="spacingAndGlyphs">3,600.000</text>
<text x="1751" y="333.14" textLength="52.7" lengthAdjust="spacingAndGlyphs">3,400.000</text>
<text x="1751" y="380.33" textLength="52.7" lengthAdjust="spacingAndGlyphs">3,200.000</text>
<text x="1751" y="427.52" textLength="52.7" lengthAdjust="spacingAndGlyphs">3,000.000</text>
<text x="1751" y="474.71" textLength="52.7" lengthAdjust="spacingAndGlyphs">2,800.000</text>
<text x="1751" y="521.9" textLength="52.7" lengthAdjust="spacingAndGlyphs">2,600.000</text>
<text x="1751" y="579.8" textLength="29" lengthAdjust="spacingAndGlyphs">80.00</text>
<text x="1751" y="620.8" textLength="29" lengthAdjust="spacingAndGlyphs">60.00</text>
<text x="1751" y="662.7" textLength="29" lengthAdjust="spacingAndGlyphs">40.00</text>
</g>
<g font-size="12" fill="#131722" text-anchor="middle" letter-spacing="-0.4" stroke="#131722" stroke-width="0.3">
<text x="122.5" y="710.3">May</text>
<text x="312.5" y="710.3">Jun</text>
<text x="492.5" y="710.3">Jul</text>
<text x="691.5" y="710.3">Aug</text>
<text x="880.5" y="710.3">Sep</text>
<text x="1070.5" y="710.3">Oct</text>
<text x="1277.5" y="710.3">Nov</text>
<text x="1449.5" y="710.3">Dec</text>
<text x="1647.5" y="710.3" font-weight="bold" letter-spacing="0.1">2026</text>
</g>
<g fill="none" stroke="#131722" stroke-width="1.05"><path d="M1771.2 706.4 L1774.9 700.4 H1782.3 L1786 706.4 L1782.3 712.4 H1774.9 Z" stroke-linejoin="round"/><circle cx="1778.6" cy="706.4" r="2"/></g>
<path d="M1706 103 H1742 V120 H1706 a2 2 0 0 1 -2 -2 V105 a2 2 0 0 1 2 -2 Z" fill="#4caf50"/>
<text x="1708.4" y="115.8" font-size="12" fill="#fff" textLength="29.8" lengthAdjust="spacingAndGlyphs" stroke="#fff" stroke-width="0.3">GOLD</text>
<rect x="1743" y="103" width="66" height="45" rx="2" ry="2" fill="#4caf50"/>
<g font-size="12" fill="#fff" stroke="#fff" stroke-width="0.3">
<text x="1751" y="114.9" textLength="52.7" lengthAdjust="spacingAndGlyphs">4,326.950</text>
<text x="1751" y="129.2" textLength="42.5" lengthAdjust="spacingAndGlyphs">+36.25%</text>
<text x="1751" y="142.9" textLength="46" lengthAdjust="spacingAndGlyphs" fill-opacity="0.8">01:27:07</text>
</g>
<rect x="1746.5" y="8.5" width="63" height="25" rx="3.5" ry="3.5" fill="#fff" stroke="#ebebeb" stroke-width="1"/>
<text x="1750.4" y="24.8" font-size="12" fill="#131722" textLength="20.6" lengthAdjust="spacingAndGlyphs" stroke="#131722" stroke-width="0.3">USD</text>
<path d="M1799.7 20.3 L1802.4 22.8 L1805.1 20.3" fill="none" stroke="#131722" stroke-width="1.4"/>
<circle cx="16.9" cy="19.9" r="9" fill="#d89e0b"/>
<g fill="#fff"><path d="M15.3 16 H18.65 L20.2 18.9 H13.9 Z"/><path d="M11.66 20.15 H15.15 L16.9 22.9 H10.16 Z"/><path d="M18.65 20.15 H22.15 L24 22.9 H16.9 Z"/></g>
<g font-size="16" fill="#131722" stroke="#131722" stroke-width="0.3">
<text x="30.5" y="26" textLength="33.6" lengthAdjust="spacingAndGlyphs">CFDs</text>
<text x="69.2" y="26" textLength="16.8" lengthAdjust="spacingAndGlyphs">on</text>
<text x="91.6" y="26" textLength="31.8" lengthAdjust="spacingAndGlyphs">Gold</text>
<text x="130.4" y="26" textLength="30.4" lengthAdjust="spacingAndGlyphs">(US$</text>
<text x="179.5" y="26" textLength="24.4" lengthAdjust="spacingAndGlyphs">OZ)</text>
<text x="216.9" y="26" textLength="17.7" lengthAdjust="spacingAndGlyphs">1D</text>
<text x="247.2" y="26" textLength="27.2" lengthAdjust="spacingAndGlyphs">TVC</text>
<text x="170.4" y="26" text-anchor="middle" fill="#131722" stroke="#131722" stroke-width="0.3">/</text>
<circle cx="210.8" cy="20.6" r="1"/><circle cx="241.3" cy="20.6" r="1"/>
</g>
<path d="M292 11 H302.8 V29 H292 a9 9 0 0 1 0 -18 Z" fill="#dcf2ec"/>
<path d="M302.8 11 H314 a9 9 0 0 1 0 18 H302.8 Z" fill="#f1a6c3"/>
<circle cx="294" cy="19.9" r="4" fill="#0b9b82"/>
<g fill="none" stroke="#de1a5f" stroke-width="1.5" stroke-linecap="round"><path d="M308.3 18.7 C309.3 17 310.8 17 312 17.9 S314.8 18.8 315.7 17.2"/><path d="M308.3 22.9 C309.3 21.2 310.8 21.2 312 22.1 S314.8 23 315.7 21.4"/></g>
<g font-size="13">
<text x="331.5" y="25.2" fill="#131722" textLength="8.1" lengthAdjust="spacingAndGlyphs" stroke="#131722" stroke-width="0.3">O</text>
<text x="341.4" y="25.2" fill="#4caf50" textLength="56.9" lengthAdjust="spacingAndGlyphs" stroke="#4caf50" stroke-width="0.3">4,318.270</text>
<text x="404.9" y="25.2" fill="#131722" textLength="7.3" lengthAdjust="spacingAndGlyphs" stroke="#131722" stroke-width="0.3">H</text>
<text x="414.3" y="25.2" fill="#4caf50" textLength="56.9" lengthAdjust="spacingAndGlyphs" stroke="#4caf50" stroke-width="0.3">4,402.354</text>
<text x="478" y="25.2" fill="#131722" textLength="5.2" lengthAdjust="spacingAndGlyphs" stroke="#131722" stroke-width="0.3">L</text>
<text x="484.6" y="25.2" fill="#4caf50" textLength="57.4" lengthAdjust="spacingAndGlyphs" stroke="#4caf50" stroke-width="0.3">4,309.600</text>
<text x="548.3" y="25.2" fill="#131722" textLength="6.9" lengthAdjust="spacingAndGlyphs" stroke="#131722" stroke-width="0.3">C</text>
<text x="556.7" y="25.2" fill="#4caf50" textLength="57.3" lengthAdjust="spacingAndGlyphs" stroke="#4caf50" stroke-width="0.3">4,326.950</text>
<text x="621" y="25.2" fill="#4caf50" textLength="37" lengthAdjust="spacingAndGlyphs" stroke="#4caf50" stroke-width="0.3">+9.001</text>
<text x="664" y="25.2" fill="#4caf50" textLength="47.5" lengthAdjust="spacingAndGlyphs" stroke="#4caf50" stroke-width="0.3">(+0.21%)</text>
</g>
<rect x="7.5" y="36.5" width="79" height="33" rx="4" ry="4" fill="#fff" stroke="#f23645" stroke-width="1"/>
<text x="18.4" y="50.3" font-size="13" fill="#f23645" textLength="57.3" lengthAdjust="spacingAndGlyphs" stroke="#f23645" stroke-width="0.3">4,327.260</text>
<text x="34.9" y="64.1" font-size="11" fill="#f23645" textLength="23.6" lengthAdjust="spacingAndGlyphs" stroke="#f23645" stroke-width="0.3">SELL</text>
<text x="95.6" y="56.2" font-size="9.5" fill="#131722" stroke="none" textLength="15.3" lengthAdjust="spacingAndGlyphs">110</text>
<rect x="119.5" y="36.5" width="79" height="33" rx="4" ry="4" fill="#fff" stroke="#2962ff" stroke-width="1"/>
<text x="130.4" y="50.3" font-size="13" fill="#2962ff" textLength="57.3" lengthAdjust="spacingAndGlyphs" stroke="#2962ff" stroke-width="0.3">4,327.370</text>
<text x="148.6" y="64.1" font-size="11" fill="#2962ff" textLength="20.5" lengthAdjust="spacingAndGlyphs" stroke="#2962ff" stroke-width="0.3">BUY</text>
<g font-size="13">
<text x="7.9" y="91" fill="#131722" textLength="23" lengthAdjust="spacingAndGlyphs" stroke="#131722" stroke-width="0.3">SMA</text>
<text x="34.5" y="91" fill="#131722" textLength="88.4" lengthAdjust="spacingAndGlyphs" stroke="#131722" stroke-width="0.3">20/50/100/200</text>
<text x="131.1" y="91" fill="#2962ff" textLength="56.6" lengthAdjust="spacingAndGlyphs" stroke="#2962ff" stroke-width="0.3">4,324.128</text>
<text x="194.6" y="91" fill="#ff9800" textLength="56.9" lengthAdjust="spacingAndGlyphs" stroke="#ff9800" stroke-width="0.3">4,178.084</text>
<text x="257.7" y="91" fill="#66bb6a" textLength="56.9" lengthAdjust="spacingAndGlyphs" stroke="#66bb6a" stroke-width="0.3">3,943.119</text>
<text x="321.3" y="91" fill="#f5222d" textLength="56.4" lengthAdjust="spacingAndGlyphs" stroke="#f5222d" stroke-width="0.3">3,613.003</text>
<text x="8.25" y="567.2" fill="#131722" textLength="16.5" lengthAdjust="spacingAndGlyphs" stroke="#131722" stroke-width="0.3">RSI</text>
<text x="33.8" y="567.2" fill="#7e57c2" textLength="31.4" lengthAdjust="spacingAndGlyphs" stroke="#7e57c2" stroke-width="0.3">53.67</text>
<text x="71.5" y="567.2" fill="#fdd835" textLength="32.1" lengthAdjust="spacingAndGlyphs" stroke="#fdd835" stroke-width="0.3">68.40</text>
</g>
<rect x="7.6" y="101.5" width="27.8" height="19.9" rx="3.5" ry="3.5" fill="#fff" fill-opacity="0.85" stroke="#dadada" stroke-width="1"/>
<path d="M17.3 113.5 L21.45 109.4 L25.6 113.5" fill="none" stroke="#1a1a1a" stroke-width="1.4"/>
<g fill="#fff" stroke="#fff" stroke-width="4.4" stroke-linejoin="round"><path d="M10.9 663.1 H22.9 V677.8 H17 V668.5 H10.9 Z"/><circle cx="27.9" cy="666" r="2.85"/><path d="M34.3 663.1 H40.7 L34.7 677.8 H28.3 Z"/><text x="47.9" y="677.8" font-size="20.5" font-weight="bold" textLength="120.9" lengthAdjust="spacingAndGlyphs">TradingView</text></g>
<g fill="#101010"><path d="M10.9 663.1 H22.9 V677.8 H17 V668.5 H10.9 Z"/><circle cx="27.9" cy="666" r="2.85"/><path d="M34.3 663.1 H40.7 L34.7 677.8 H28.3 Z"/><text x="47.9" y="677.8" font-size="20.5" font-weight="bold" textLength="120.9" lengthAdjust="spacingAndGlyphs">TradingView</text></g>
</svg>
</body></html>
